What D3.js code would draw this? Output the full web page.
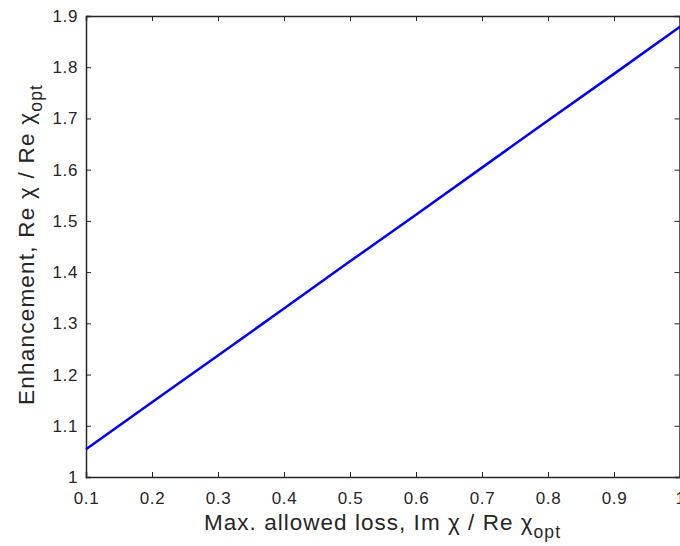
<!DOCTYPE html>
<html>
<head>
<meta charset="utf-8">
<script src="https://cdn.jsdelivr.net/npm/d3@7"></script>
<style>
  body { margin: 0; background: #fff; }
  svg { display: block; font-family: "Liberation Sans", Arial, sans-serif; }
</style>
</head>
<body>
<div id="chart"></div>
<script>
// loss ratio (x) and enhancement (y)
const lossValues = [0.1, 0.2, 0.3, 0.4, 0.5, 0.6, 0.7, 0.8, 0.9, 1.0];
const enhancementValues = [1.054, 1.146, 1.237, 1.329, 1.421, 1.512, 1.604, 1.696, 1.787, 1.879];

const xTicks = [0.1, 0.2, 0.3, 0.4, 0.5, 0.6, 0.7, 0.8, 0.9, 1];
const yTicks = [1, 1.1, 1.2, 1.3, 1.4, 1.5, 1.6, 1.7, 1.8, 1.9];

const width = 680;
const height = 546;
const margins = { left: 86, right: 0, top: 16, bottom: 69 };
const AXIS_COLOR = '#262626';
const TICK_FONT = 17;

const svg = d3.select('#chart')
  .append('svg')
    .attr('width', width)
    .attr('height', height);

const xScale = d3.scaleLinear()
  .domain([0.1, 1])
  .range([margins.left, width - margins.right]);

const yScale = d3.scaleLinear()
  .domain([1, 1.9])
  .range([height - margins.bottom, margins.top]);

const fmt = d => d3.format('')(d);

// bottom axis, ticks inward
const xAxis = svg.append('g')
    .attr('transform', 'translate(0,' + (height - margins.bottom) + ')')
    .call(d3.axisBottom(xScale).tickValues(xTicks).tickSize(-5).tickPadding(15).tickFormat(fmt));

// top axis (box), ticks only
const xAxisTop = svg.append('g')
    .attr('transform', 'translate(0,' + margins.top + ')')
    .call(d3.axisTop(xScale).tickValues(xTicks).tickSize(-5).tickFormat(''));

// left axis
const yAxis = svg.append('g')
    .attr('transform', 'translate(' + margins.left + ',0)')
    .call(d3.axisLeft(yScale).tickValues(yTicks).tickSize(-5).tickPadding(8).tickFormat(fmt));

// right axis (box), ticks only
const yAxisRight = svg.append('g')
    .attr('transform', 'translate(' + (width - margins.right - 0.5) + ',0)')
    .call(d3.axisRight(yScale).tickValues(yTicks).tickSize(-5).tickFormat(''));

[xAxis, xAxisTop, yAxis, yAxisRight].forEach(g => {
  g.attr('font-size', TICK_FONT)
   .attr('font-family', '"Liberation Sans", Arial, sans-serif');
  g.select('.domain')
      .attr('stroke', AXIS_COLOR)
      .attr('stroke-width', 1.5);
  g.selectAll('.tick line')
      .attr('stroke', AXIS_COLOR)
      .attr('stroke-width', 1);
  g.selectAll('.tick text')
      .attr('fill', AXIS_COLOR)
      .style('font-size', TICK_FONT + 'px')
      .style('letter-spacing', '0.6px');
});

// data line
const line = d3.line()
  .x((d, i) => xScale(lossValues[i]))
  .y(d => yScale(d));

svg.append('path')
    .datum(enhancementValues)
    .attr('fill', 'none')
    .attr('stroke', '#0000ff')
    .attr('stroke-width', 2.5)
    .attr('d', line);

// x label
const xLabel = svg.append('text')
    .attr('x', 382)
    .attr('y', 530)
    .attr('text-anchor', 'middle')
    .attr('fill', AXIS_COLOR)
    .attr('textLength', 356)
    .attr('lengthAdjust', 'spacing')
    .style('font-size', '22.5px');
xLabel.append('tspan').text('Max. allowed loss, Im χ / Re χ');
xLabel.append('tspan').attr('dy', 8).style('font-size', '17.5px').text('opt');

// y label
const yLabel = svg.append('text')
    .attr('transform', 'translate(34,245) rotate(-90)')
    .attr('text-anchor', 'middle')
    .attr('fill', AXIS_COLOR)
    .attr('textLength', 320)
    .attr('lengthAdjust', 'spacing')
    .style('font-size', '22.5px');
yLabel.append('tspan').text('Enhancement, Re χ / Re χ');
yLabel.append('tspan').attr('dy', 8).style('font-size', '17.5px').text('opt');
</script>
</body>
</html>
